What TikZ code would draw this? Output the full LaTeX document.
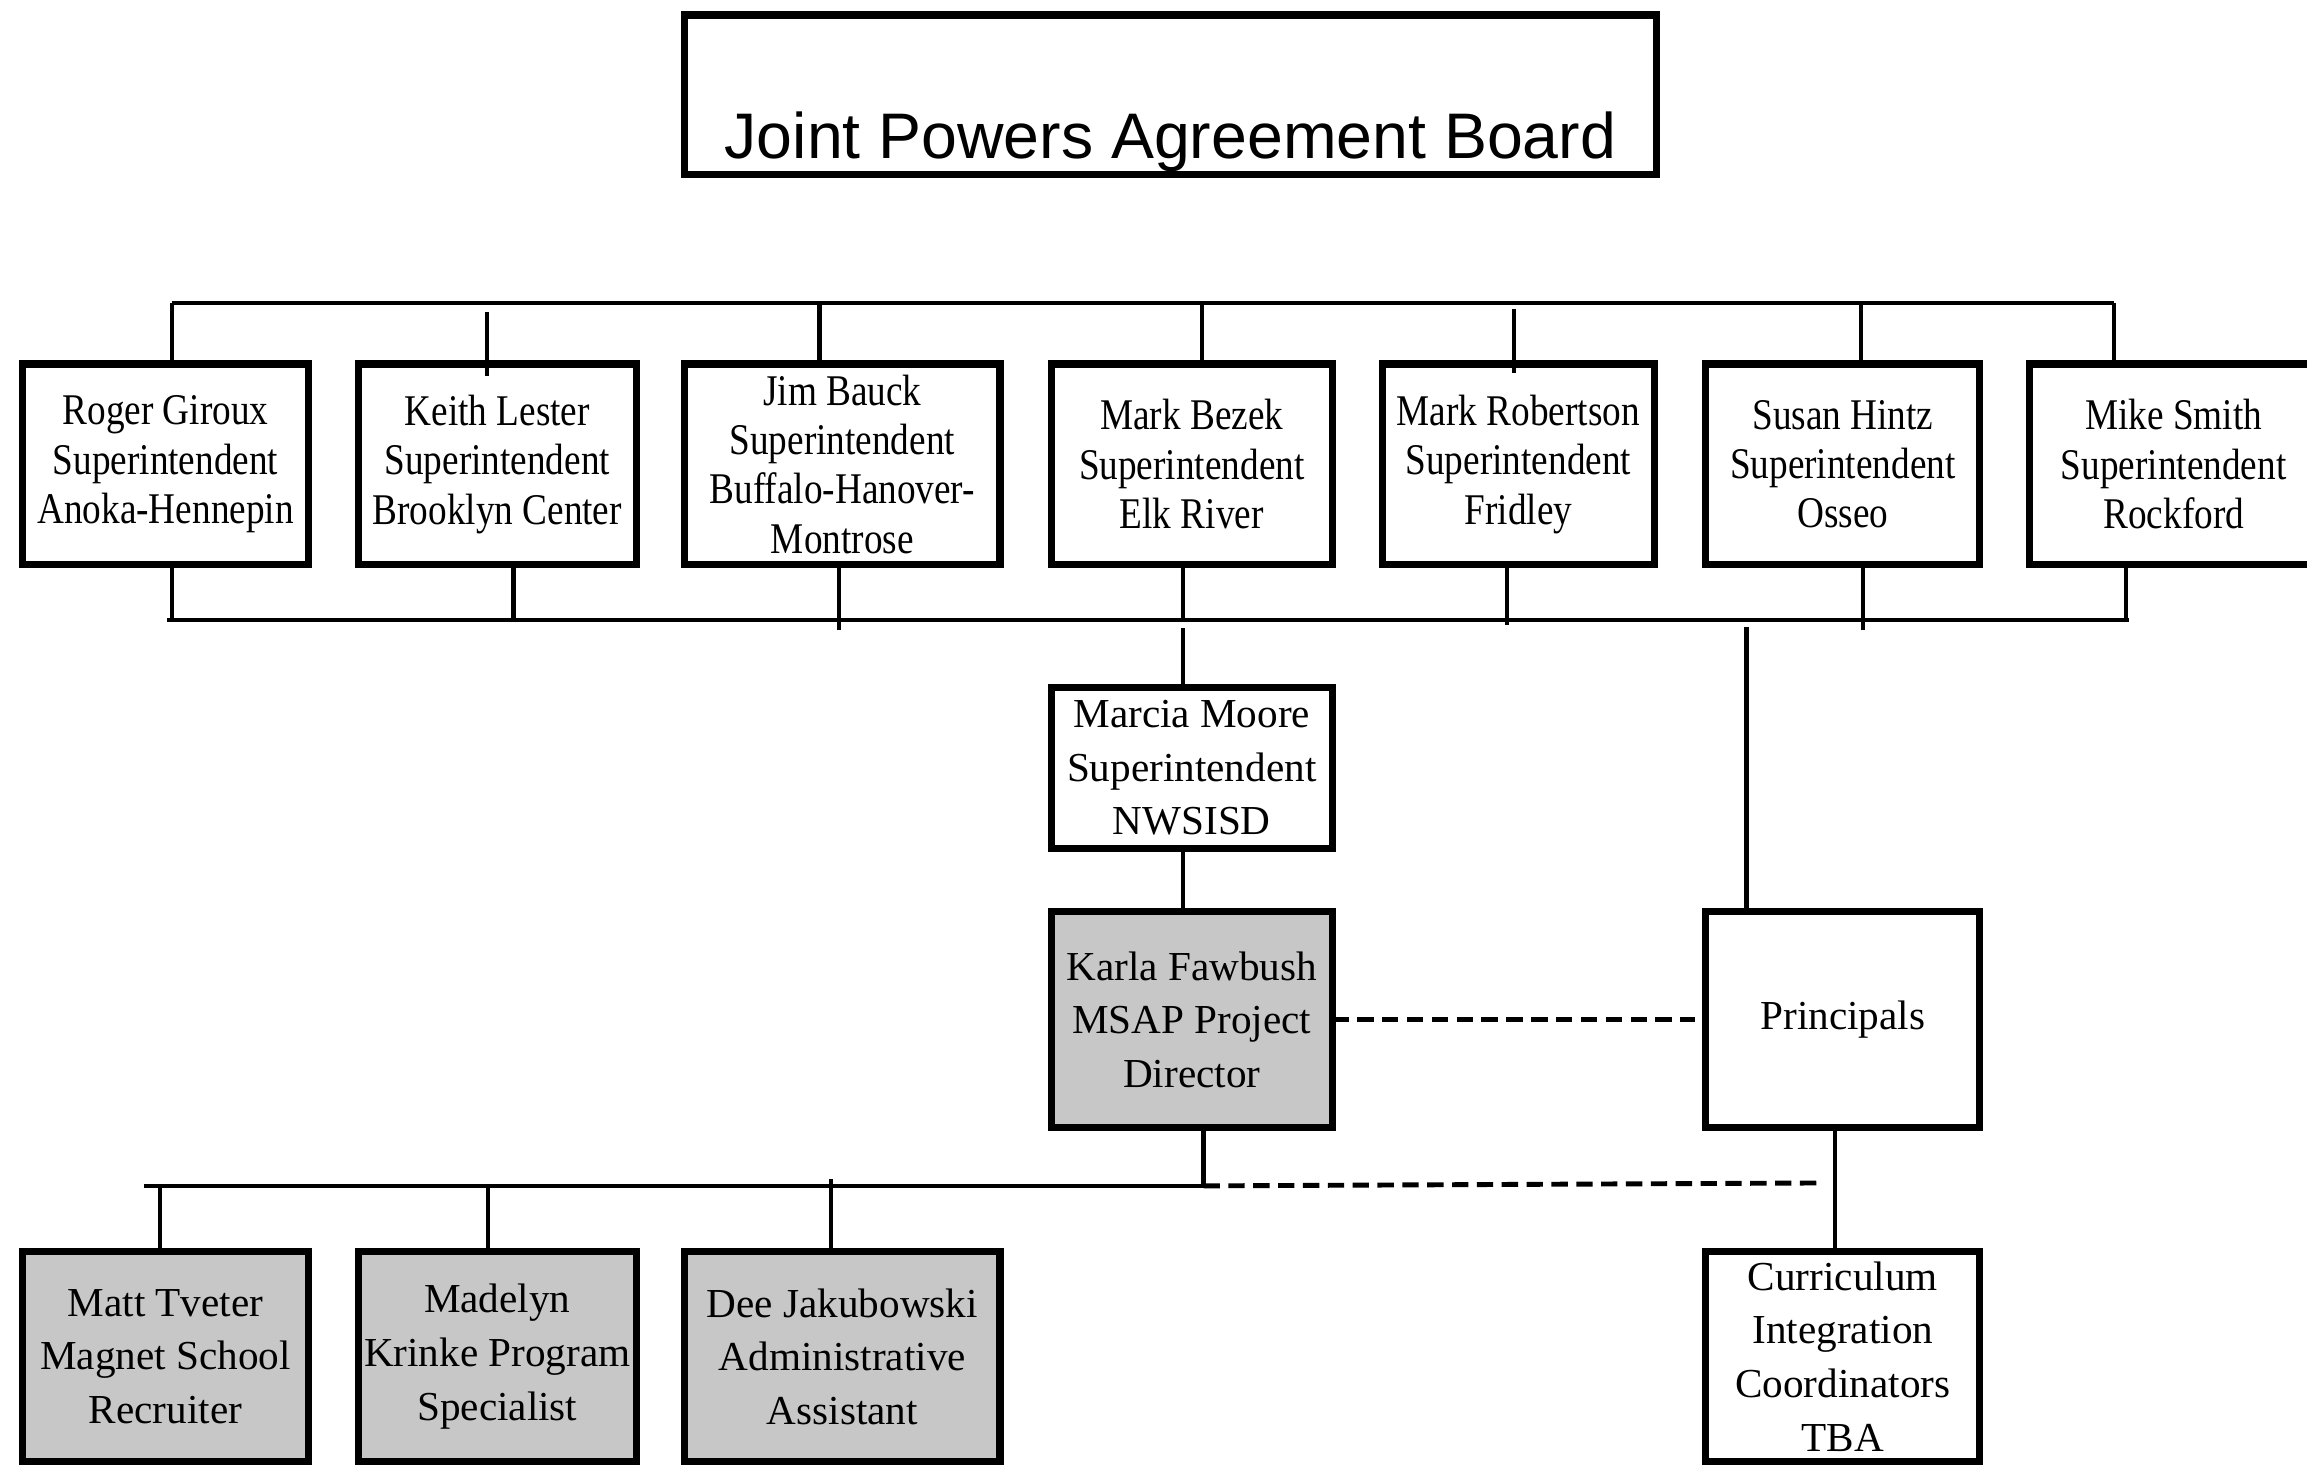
\documentclass[tikz,border=0pt]{standalone}
\usepackage{fontspec}
\setmainfont{Liberation Serif}
\newfontfamily\condserif[FakeStretch=0.85]{Liberation Serif}
\newfontfamily\titlesans{Liberation Sans}
\usetikzlibrary{calc}
\begin{document}
\begin{tikzpicture}[x=0.45pt,y=-0.45pt,
  box/.style={draw=black,line width=2.2pt,inner sep=0pt,outer sep=0pt,align=center,fill=white},
  suprow/.style={box,minimum height=61.3pt,font=\condserif\fontsize{13.4}{15.1}\selectfont},
  lowbox/.style={box,font=\fontsize{12.6}{16.4}\selectfont},
  shaded/.style={fill=black!22},
  conn/.style={line width=1.3pt},
  dashconn/.style={line width=1.5pt,dash pattern=on 5pt off 2.6pt}]
\useasboundingbox (0,0) rectangle (1568,999);
\clip (0,0) rectangle (1568,999);

% title
\node[box,line width=2.2pt,minimum width=297.3pt,minimum height=48.9pt,
  text height=43.8pt,text depth=5.1pt,
  font=\titlesans\fontsize{19.7}{22}\selectfont] (board) at (795.5,64.5) {Joint Powers Agreement Board};

% superintendents
\node[suprow,minimum width=87.4pt] (roger) at (112.5,315.5) {Roger Giroux\\Superintendent\\Anoka-Hennepin};
\node[suprow,minimum width=85.1pt] (keith) at (338,315.5) {Keith Lester\\Superintendent\\Brooklyn Center};
\node[suprow,minimum width=96.4pt] (jim) at (572.5,315.5) {Jim Bauck\\Superintendent\\Buffalo-Hanover-\\Montrose};
\node[suprow,minimum width=86.0pt] (bezek) at (810,315.5) {Mark Bezek\\Superintendent\\Elk River};
\node[suprow,minimum width=83.3pt] (robertson) at (1032,315.5) {Mark Robertson\\Superintendent\\Fridley};
\node[suprow,minimum width=83.8pt] (hintz) at (1252.5,315.5) {Susan Hintz\\Superintendent\\Osseo};
\node[suprow,minimum width=88.2pt] (smith) at (1477.4,315.5) {Mike Smith\\Superintendent\\Rockford};

% middle
\node[lowbox,minimum width=86.0pt,minimum height=49.1pt] (moore) at (810,522) {Marcia Moore\\Superintendent\\NWSISD};
\node[lowbox,shaded,minimum width=86.0pt,minimum height=66.2pt] (karla) at (810,693) {Karla Fawbush\\MSAP Project\\Director};
\node[lowbox,minimum width=83.8pt,minimum height=66.2pt] (princ) at (1252.5,693) {Principals};

% bottom
\node[lowbox,shaded,minimum width=87.4pt,minimum height=64.4pt] (tveter) at (112.5,922) {Matt Tveter\\Magnet School\\Recruiter};
\node[lowbox,shaded,minimum width=85.1pt,minimum height=64.4pt] (krinke) at (338,922) {Madelyn\\Krinke Program\\Specialist};
\node[lowbox,shaded,minimum width=96.4pt,minimum height=64.4pt] (jaku) at (572.5,922) {Dee Jakubowski\\Administrative\\Assistant};
\node[lowbox,minimum width=83.8pt,minimum height=64.4pt] (curric) at (1252.5,922) {Curriculum\\Integration\\Coordinators\\TBA};

% top bus
\coordinate (topL) at (117,206);
\coordinate (topR) at (1437,206);
\coordinate (k2) at (331,212);
\coordinate (k3) at (557,206);
\coordinate (k4) at (817,206);
\coordinate (k5) at (1029,210);
\coordinate (k6) at (1265,206);
\draw[conn] (topL) -- (topR);
\draw[conn] (topL) -- (topL |- roger.north);
\draw[conn] (k2) -- ($(k2 |- keith.north)+(0,8)$);
\draw[conn] (k3) -- (k3 |- jim.north);
\draw[conn] (k4) -- (k4 |- bezek.north);
\draw[conn] (k5) -- ($(k5 |- robertson.north)+(0,6)$);
\draw[conn] (k6) -- (k6 |- hintz.north);
\draw[conn] (topR) -- (topR |- smith.north);

% bottom bus of superintendents
\coordinate (botL) at (113.5,421.5);
\coordinate (botR) at (1447,421.5);
\coordinate (j1) at (117,421.5);
\coordinate (j2) at (349,421.5);
\coordinate (j3) at (570,428);
\coordinate (j4) at (804,421.5);
\coordinate (j5) at (1024,425);
\coordinate (j6) at (1266,428);
\coordinate (j7) at (1445,421.5);
\draw[conn] (botL) -- (botR);
\draw[conn] (roger.south -| j1) -- (j1);
\draw[conn] (keith.south -| j2) -- (j2);
\draw[conn] (jim.south -| j3) -- (j3);
\draw[conn] (bezek.south -| j4) -- (j4);
\draw[conn] (robertson.south -| j5) -- (j5);
\draw[conn] (hintz.south -| j6) -- (j6);
\draw[conn] (smith.south -| j7) -- (j7);

% to Marcia Moore and Principals
\coordinate (m0) at (804,427);
\coordinate (p0) at (1187,426);
\draw[conn] (m0) -- (m0 |- moore.north);
\draw[conn] (moore.south -| m0) -- (karla.north -| m0);
\draw[conn] (p0) -- (p0 |- princ.north);

% Karla -- Principals
\draw[dashconn,shorten >=3.2pt] (karla.east) -- (princ.west);

% lower bus
\coordinate (lbL) at (98,806);
\coordinate (kb) at (818,806);
\coordinate (db) at (1240,804);
\coordinate (q1) at (109,806);
\coordinate (q2) at (331.5,806);
\coordinate (q3) at (565,801);
\coordinate (pc) at (1247,806);
\draw[conn] (karla.south -| kb) -- (kb);
\draw[conn] (lbL) -- (kb);
\draw[dashconn] (kb) -- (db);
\draw[conn] (q1) -- (q1 |- tveter.north);
\draw[conn] (q2) -- (q2 |- krinke.north);
\draw[conn] (q3) -- (q3 |- jaku.north);
\draw[conn] (princ.south -| pc) -- (curric.north -| pc);
\end{tikzpicture}
\end{document}
